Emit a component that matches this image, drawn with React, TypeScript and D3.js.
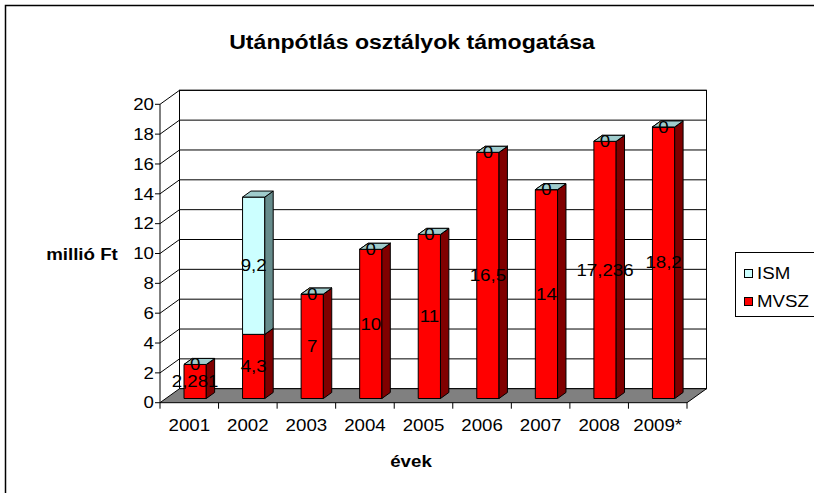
import React from 'react';
import * as d3 from 'd3';

const categories = ['2001', '2002', '2003', '2004', '2005', '2006', '2007', '2008', '2009*'];
const mvszValues = [2.281, 4.3, 7, 10, 11, 16.5, 14, 17.236, 18.2];
const ismValues = [0, 9.2, 0, 0, 0, 0, 0, 0, 0];
const seriesNames = ['ISM', 'MVSZ'];
const yTicks = [0, 2, 4, 6, 8, 10, 12, 14, 16, 18, 20];
const titleText = 'Utánpótlás osztályok támogatása';
const yTitle = 'millió Ft';
const xTitle = 'évek';

const W = 814;
const H = 493;
const FONT = "Arial, 'Liberation Sans', sans-serif";
const SX = 1.1;
const FS = 17;

const X0 = 160;
const X1 = 687;
const DX = 19.5;
const DY = -14;
const T0 = 0.3;
const T1 = 0.73;

const y = d3.scaleLinear().domain([0, 20]).range([402.7, 104.3]);
const xb = d3.scaleBand<string>().domain(categories).range([X0, X1]);

const fmt = (v: number) => String(v).replace('.', ',');

type Pt = [number, number];
const P = (x: number, v: number, t: number): Pt => [x + t * DX, y(v) + t * DY];
const poly = (pts: Pt[]) => pts.map((p) => p.join(',')).join(' ');

const colors = {
  mvsz: { front: '#FF0000', side: '#800000', top: '#C00000' },
  ism: { front: '#CCFFFF', side: '#668C8C', top: '#9FCCCC' },
};

function Txt(props: {
  x: number;
  y: number;
  text: string;
  size: number;
  bold?: boolean;
  anchor?: string;
  sx?: number;
  baseline?: string;
}) {
  const { x, y: yy, text, size, bold, anchor = 'middle', sx = SX, baseline } = props;
  return (
    <text
      transform={`translate(${x},${yy}) scale(${sx},1)`}
      textAnchor={anchor}
      dominantBaseline={baseline}
      fontFamily={FONT}
      fontSize={size}
      fontWeight={bold ? 'bold' : 'normal'}
      fill="#000"
    >
      {text}
    </text>
  );
}

export default function App() {
  const bw = xb.bandwidth();
  const barW = bw * 0.38;

  const segs = (v0: number, v1: number, xl: number, c: { front: string; side: string; top: string }, key: string) => {
    const xr = xl + barW;
    return (
      <g key={key} stroke="#000" strokeWidth={1} strokeLinejoin="round">
        <polygon points={poly([P(xl, v0, T0), P(xr, v0, T0), P(xr, v1, T0), P(xl, v1, T0)])} fill={c.front} />
        <polygon points={poly([P(xr, v0, T0), P(xr, v0, T1), P(xr, v1, T1), P(xr, v1, T0)])} fill={c.side} />
        <polygon points={poly([P(xl, v1, T0), P(xr, v1, T0), P(xr, v1, T1), P(xl, v1, T1)])} fill={c.top} />
      </g>
    );
  };

  const backTL = P(X0, 20, 1);
  const backBR = P(X1, 0, 1);

  return (
    <svg width={W} height={H} style={{ position: 'absolute', left: 0, top: 0, background: '#fff' }}>
      <rect x={5.5} y={5.5} width={W + 20} height={H + 20} fill="#fff" stroke="#000" strokeWidth={1.5} />

      {/* back wall */}
      <rect x={backTL[0]} y={backTL[1]} width={backBR[0] - backTL[0]} height={backBR[1] - backTL[1]} fill="#fff" stroke="#000" strokeWidth={1} />
      {/* gridlines */}
      {yTicks.filter((v) => v > 0).map((v) => (
        <polyline key={'g' + v} points={poly([P(X0, v, 0), P(X0, v, 1), P(X1, v, 1)])} fill="none" stroke="#000" strokeWidth={1} />
      ))}
      {/* y axis */}
      <line x1={X0} x2={X0} y1={y(0)} y2={y(20)} stroke="#000" strokeWidth={1} />
      {yTicks.map((v) => (
        <line key={'t' + v} x1={X0 - 5} x2={X0} y1={y(v)} y2={y(v)} stroke="#000" strokeWidth={1} />
      ))}
      {/* floor */}
      <polygon points={poly([P(X0, 0, 0), P(X1, 0, 0), P(X1, 0, 1), P(X0, 0, 1)])} fill="#808080" stroke="#000" strokeWidth={1} />
      {/* x ticks */}
      {[...categories.map((c) => xb(c) as number), X1].map((xx, i) => (
        <line key={'xt' + i} x1={xx} x2={xx} y1={y(0)} y2={y(0) + 6} stroke="#000" strokeWidth={1} />
      ))}

      {/* bars */}
      {categories.map((c, i) => {
        const xl = (xb(c) as number) + (bw - barW) / 2;
        const m = mvszValues[i];
        const s = ismValues[i];
        return (
          <g key={c}>
            {segs(0, m, xl, colors.mvsz, 'm')}
            {segs(m, m + s, xl, colors.ism, 's')}
          </g>
        );
      })}

      {/* data labels */}
      {categories.map((c, i) => {
        const xl = (xb(c) as number) + (bw - barW) / 2;
        const cx = xl + barW / 2 + T0 * DX;
        const m = mvszValues[i];
        const s = ismValues[i];
        const ym = (y(0) + y(m)) / 2 + T0 * DY;
        const ys = (y(m) + y(m + s)) / 2 + T0 * DY;
        return (
          <g key={'l' + c}>
            <Txt x={cx} y={ym} text={fmt(m)} size={FS} baseline="central" />
            <Txt x={cx} y={ys} text={fmt(s)} size={FS} baseline="central" />
          </g>
        );
      })}

      {/* y tick labels */}
      {yTicks.map((v) => (
        <Txt key={'yl' + v} x={154} y={y(v)} text={String(v)} size={FS} anchor="end" baseline="central" />
      ))}
      {/* x labels */}
      {categories.map((c) => (
        <Txt key={'xl' + c} x={(xb(c) as number) + bw / 2} y={431} text={c} size={FS} />
      ))}

      {/* titles */}
      <Txt x={412} y={49} text={titleText} size={21} bold />
      <Txt x={82} y={260} text={yTitle} size={FS} bold />
      <Txt x={411} y={467} text={xTitle} size={FS} bold />

      {/* legend */}
      <rect x={735.5} y={252.5} width={120} height={64} fill="#fff" stroke="#000" strokeWidth={1} />
      {seriesNames.map((n, i) => (
        <g key={n}>
          <rect x={744.5} y={269.5 + i * 28} width={8} height={8} fill={i === 0 ? colors.ism.front : colors.mvsz.front} stroke="#000" strokeWidth={1} />
          <Txt x={757} y={278.5 + i * 28} text={n} size={FS} anchor="start" />
        </g>
      ))}
    </svg>
  );
}
